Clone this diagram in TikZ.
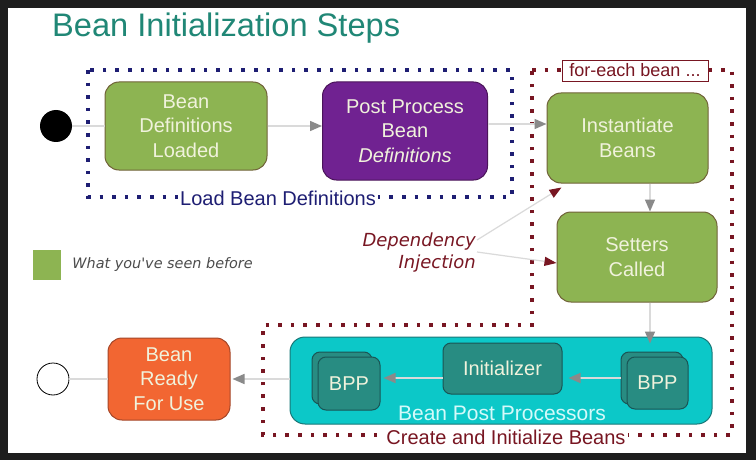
\documentclass[tikz,border=0pt]{standalone}
\usepackage{fontspec}
\setmainfont{Liberation Sans}
\newfontfamily\verdanalike{DejaVu Sans}
\usetikzlibrary{positioning, arrows.meta}
\definecolor{framedark}{RGB}{30,30,30}
\definecolor{titleteal}{RGB}{32,135,118}
\definecolor{beangreen}{RGB}{141,180,82}
\definecolor{beanrim}{RGB}{112,98,56}
\definecolor{beancream}{RGB}{240,242,220}
\definecolor{postpurple}{RGB}{112,34,145}
\definecolor{postrim}{RGB}{75,20,90}
\definecolor{readyorange}{RGB}{242,102,50}
\definecolor{readyrim}{RGB}{165,70,40}
\definecolor{bppcyan}{RGB}{12,200,200}
\definecolor{bpprim}{RGB}{25,120,120}
\definecolor{bpplabel}{RGB}{212,250,250}
\definecolor{procteal}{RGB}{40,140,130}
\definecolor{procrim}{RGB}{25,85,85}
\definecolor{loadnavy}{RGB}{30,30,115}
\definecolor{eachmaroon}{RGB}{120,22,34}
\definecolor{flowline}{RGB}{218,218,218}
\definecolor{flowhead}{RGB}{138,138,138}

\begin{document}
\begin{tikzpicture}[
  x=1pt, y=-1pt,
  stage/.style={line width=1pt, rounded corners=14pt, inner sep=0pt, align=center, text=beancream, font=\fontsize{20}{24.5}\selectfont},
  seen/.style={stage, fill=beangreen, draw=beanrim, minimum width=161pt, minimum height=90pt},
  proc/.style={line width=1pt, rounded corners=8pt, inner sep=0pt, fill=procteal, draw=procrim, text=beancream, font=\fontsize{20}{24}\selectfont},
  dots/.style={line width=3.6pt, dash pattern=on 3.6pt off 9pt},
  flow/.style={draw=flowline, line width=1.5pt, -{Triangle[length=12pt, width=10pt, color=flowhead]}},
  inject/.style={draw=flowline, line width=1.2pt, -{Triangle[length=12pt, width=9pt, color=eachmaroon]}}
]
  % Dark frame and white page
  \useasboundingbox (0,0) rectangle (756,460);
  \fill[framedark] (0,0) rectangle (756,460);
  \fill[white] (8,8) rectangle (746,453);

  % Title
  \node[anchor=base west, inner sep=0pt, text=titleteal, font=\fontsize{32.6}{38}\selectfont] (title) at (52,37) {Bean Initialization Steps};

  % Dotted groups
  \draw[dots, loadnavy] (88,70) rectangle (512,197);
  \draw[dots, eachmaroon] (532,70) -- (732,70) -- (732,435) -- (263,435) -- (263,325) -- (532,325) -- cycle;

  % Start and end states
  \node[circle, fill=black, minimum size=32pt, inner sep=0pt] (start) at (56,126) {};
  \node[circle, draw=black, line width=0.8pt, fill=white, minimum size=32pt, inner sep=0pt] (finish) at (53,379) {};

  % Load bean definitions
  \node[seen, minimum width=162pt, minimum height=88pt] (defs) at (186,126) {Bean\\Definitions\\Loaded};
  \node[stage, fill=postpurple, draw=postrim, minimum width=165pt, minimum height=98pt] (post) at (405,131) {Post Process\\Bean\\\textit{Definitions}};

  % For-each bean steps
  \node[seen] (inst) at (627.5,138) {Instantiate\\Beans};
  \node[seen, minimum width=160pt] (setters) at (637,257) {Setters\\Called};

  % Bean post processors
  \node[line width=1pt, rounded corners=15pt, fill=bppcyan, draw=bpprim, minimum width=422pt, minimum height=87pt] (cyan) at (501,380.5) {};
  \node[proc, minimum width=60pt, minimum height=52pt] (bppLback) at (342,378) {};
  \node[proc, minimum width=62pt, minimum height=53pt] (bppL) at (349,383.5) {BPP};
  \node[proc, minimum width=119pt, minimum height=51pt] (init) at (502.5,368.5) {Initializer};
  \node[proc, minimum width=62pt, minimum height=52pt] (bppRback) at (652,378) {};
  \node[proc, minimum width=61pt, minimum height=52pt] (bppR) at (657.5,383) {BPP};
  \node[text=bpplabel, font=\fontsize{21}{24}\selectfont] (bpplabel) at (502,413) {Bean Post Processors};

  % Ready for use
  \node[stage, fill=readyorange, draw=readyrim, minimum width=122pt, minimum height=82pt] (ready) at (169,379) {Bean\\Ready\\For Use};

  % Group labels
  \node[fill=white, inner sep=2pt, text=loadnavy, font=\fontsize{20}{24}\selectfont] (loadlabel) at (278,198) {Load Bean Definitions};
  \node[fill=white, draw=eachmaroon, line width=0.8pt, inner sep=0pt, minimum width=146pt, minimum height=21pt, text=eachmaroon, font=\fontsize{18}{20}\selectfont] (eachlabel) at (635,70.5) {for-each bean ...};
  \node[fill=white, inner sep=2pt, text=eachmaroon, font=\fontsize{20}{24}\selectfont] (createlabel) at (506,437) {Create and Initialize Beans};

  % Dependency injection note
  \node[anchor=east, align=right, inner sep=1pt, text=eachmaroon, font=\verdanalike\itshape\fontsize{18}{22}\selectfont] (dep) at (477,253) {Dependency\\Injection};

  % Legend
  \node[fill=beangreen, minimum width=28pt, minimum height=30pt, inner sep=0pt] (legend) at (47,265) {};
  \node[right=11pt of legend, inner sep=0pt, text=black!70, font=\verdanalike\itshape\fontsize{14.4}{17}\selectfont] (legendtext) {What you've seen before};

  % Flow arrows
  \coordinate (drop) at (650,0);
  \draw[draw=flowline, line width=1.5pt] (start) -- (defs);
  \draw[flow] (defs.east) -- (defs.east -| post.west);
  \draw[flow] ([yshift=7pt]post.east) -- ([yshift=7pt]post.east -| inst.west);
  \draw[flow] (inst.south -| drop) -- (setters.north -| drop);
  \draw[flow] (setters.south -| drop) -- ([yshift=8pt]bppRback.north -| drop);
  \draw[flow] (bppRback.west) -- ([xshift=6pt]bppRback.west -| init.east);
  \draw[flow] (init.west |- bppLback.east) -- ([xshift=3pt]bppL.east |- bppLback.east);
  \draw[flow] (cyan.west |- ready.east) -- ([xshift=2pt]ready.east);
  \draw[draw=flowline, line width=1.5pt] (ready) -- (finish);

  % Injection arrows
  \draw[inject] ([yshift=13pt]dep.east) -- ([xshift=15pt, yshift=-4pt]inst.south west);
  \draw[inject] ([yshift=1pt]dep.east) -- ([yshift=-6pt]setters.west);
\end{tikzpicture}
\end{document}
